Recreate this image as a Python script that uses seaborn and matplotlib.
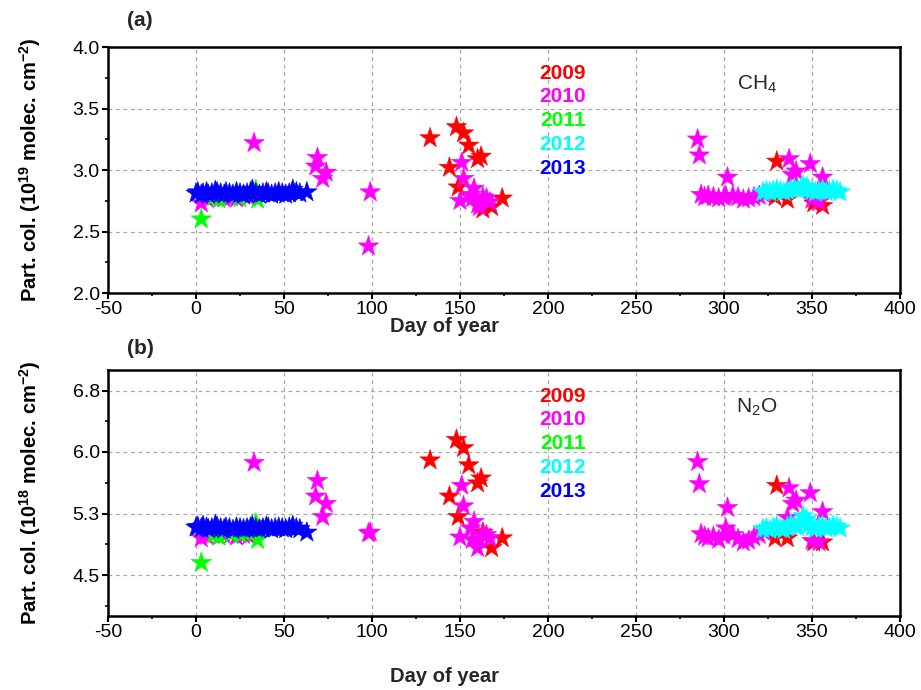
import matplotlib
matplotlib.use("Agg")
import matplotlib.pyplot as plt
from matplotlib.ticker import MultipleLocator, FixedLocator
import pandas as pd
import seaborn as sns

# ---- measurements: day of year, CH4 (1e19 molec/cm2), N2O (1e18 molec/cm2) ----
years = ["2009", "2010", "2011", "2012", "2013"]
year_colors = ["#ff0000", "#ff00ff", "#00ff00", "#00ffff", "#0000ff"]

days_2009 = [133, 144, 148, 149, 152, 155, 160, 162, 163, 168, 174, 330, 329, 336, 351, 356]
ch4_2009 = [3.26, 3.02, 3.35, 2.86, 3.30, 3.20, 3.09, 3.11, 2.68, 2.70, 2.77, 3.07, 2.78, 2.76, 2.73, 2.71]
n2o_2009 = [5.90, 5.46, 6.15, 5.21, 6.05, 5.84, 5.62, 5.68, 5.02, 4.83, 4.95, 5.59, 4.95, 4.95, 4.90, 4.90]

days_2010 = [3, 6, 9, 13, 16, 20, 23, 27, 30, 33, 68, 69, 72, 74, 98, 99,
             150, 151, 152, 156, 157, 158, 160, 161, 163, 165, 167,
             285, 286, 287, 289, 291, 294, 297, 300, 301, 302, 305, 308, 311, 314, 317, 320, 323,
             336, 337, 339, 341, 349, 350, 354, 356]
ch4_2010 = [2.73, 2.77, 2.78, 2.79, 2.77, 2.78, 2.77, 2.79, 2.78, 3.22, 3.03, 3.10, 2.93, 2.98, 2.38, 2.82,
            2.75, 3.06, 2.93, 2.80, 2.77, 2.85, 2.72, 2.70, 2.78, 2.77, 2.74,
            3.25, 3.12, 2.80, 2.78, 2.79, 2.78, 2.77, 2.78, 2.79, 2.94, 2.79, 2.78, 2.76, 2.77, 2.78, 2.79, 2.80,
            2.83, 3.09, 2.96, 2.99, 3.05, 2.76, 2.74, 2.94]
n2o_2010 = [4.95, 4.98, 5.00, 4.97, 4.99, 5.00, 4.97, 4.99, 4.98, 5.87, 5.46, 5.65, 5.21, 5.37, 5.01, 5.02,
            4.96, 5.59, 5.34, 5.07, 4.93, 5.15, 4.83, 4.93, 4.99, 4.99, 4.95,
            5.88, 5.61, 5.00, 4.97, 4.95, 4.97, 4.93, 4.98, 5.07, 5.32, 4.99, 4.94, 4.90, 4.92, 4.96, 4.99, 5.02,
            5.20, 5.56, 5.37, 5.41, 5.50, 4.92, 4.90, 5.27]

days_2011 = [3, 10, 13, 20, 25, 27, 34, 35]
ch4_2011 = [2.60, 2.78, 2.76, 2.79, 2.77, 2.80, 2.84, 2.76]
n2o_2011 = [4.65, 4.99, 4.97, 5.00, 4.99, 5.02, 5.13, 4.93]

days_2012 = [322, 324, 326, 328, 330, 332, 334, 336, 338, 340, 342, 344, 345, 346, 347,
             348, 350, 352, 354, 356, 358, 360, 362, 364, 366]
ch4_2012 = [2.82, 2.83, 2.82, 2.83, 2.84, 2.83, 2.82, 2.83, 2.84, 2.85, 2.84, 2.86, 2.87, 2.85, 2.86,
            2.84, 2.83, 2.82, 2.83, 2.84, 2.82, 2.83, 2.84, 2.83, 2.82]
n2o_2012 = [5.06, 5.07, 5.05, 5.08, 5.10, 5.06, 5.05, 5.09, 5.12, 5.10, 5.08, 5.14, 5.22, 5.15, 5.18,
            5.11, 5.08, 5.06, 5.09, 5.10, 5.07, 5.08, 5.10, 5.09, 5.07]

days_2013 = [0, 1, 3, 4, 6, 7, 9, 11, 12, 14, 16, 17, 19, 21, 23, 25, 27, 29, 31, 32,
             34, 36, 38, 40, 41, 43, 45, 47, 49, 51, 53, 55, 57, 59, 63]
ch4_2013 = [2.81, 2.82, 2.80, 2.81, 2.82, 2.80, 2.81, 2.83, 2.82, 2.81, 2.80, 2.82, 2.81, 2.80, 2.82,
            2.81, 2.80, 2.81, 2.82, 2.84, 2.81, 2.80, 2.81, 2.82, 2.81, 2.80, 2.81, 2.82, 2.81, 2.80,
            2.81, 2.84, 2.82, 2.81, 2.82]
n2o_2013 = [5.08, 5.09, 5.07, 5.10, 5.08, 5.06, 5.07, 5.11, 5.09, 5.07, 5.06, 5.08, 5.07, 5.05, 5.08,
            5.07, 5.06, 5.07, 5.08, 5.10, 5.07, 5.06, 5.07, 5.09, 5.08, 5.06, 5.07, 5.08, 5.07, 5.06,
            5.08, 5.10, 5.07, 5.06, 5.02]

series = {
    "2009": (days_2009, ch4_2009, n2o_2009),
    "2010": (days_2010, ch4_2010, n2o_2010),
    "2011": (days_2011, ch4_2011, n2o_2011),
    "2012": (days_2012, ch4_2012, n2o_2012),
    "2013": (days_2013, ch4_2013, n2o_2013),
}

frames = []
for yr in years:
    d, c, n = series[yr]
    frames.append(pd.DataFrame({"day": d, "ch4": c, "n2o": n, "year": yr}))
df = pd.concat(frames, ignore_index=True)
palette = dict(zip(years, year_colors))

# ---- style ----
sns.set_theme(style="white")
plt.rcParams["font.family"] = ["Liberation Sans", "DejaVu Sans"]
plt.rcParams["mathtext.fontset"] = "custom"
plt.rcParams["mathtext.rm"] = "Liberation Sans"
plt.rcParams["mathtext.bf"] = "Liberation Sans:bold"
plt.rcParams["axes.unicode_minus"] = False

fig = plt.figure(figsize=(9.21, 6.9), dpi=100)
W, H = 921, 690
ax_a = fig.add_axes([108 / W, 1 - 293 / H, 792 / W, 246 / H])
ax_b = fig.add_axes([108 / W, 1 - 616 / H, 792 / W, 246 / H])

panels = [
    (ax_a, "ch4", (2.0, 4.0), [2.0, 2.5, 3.0, 3.5, 4.0], ["2.0", "2.5", "3.0", "3.5", "4.0"],
     MultipleLocator(0.25), "Part. col. (10$^{\\mathbf{19}}$ molec. cm$^{\\mathbf{-2}}$)",
     "CH$_4$", "(a)", 20, 326),
    (ax_b, "n2o", (4.0, 7.0), [4.5, 5.25, 6.0, 6.75], ["4.5", "5.3", "6.0", "6.8"],
     FixedLocator([4.125, 4.875, 5.625, 6.375]),
     "Part. col. (10$^{\\mathbf{18}}$ molec. cm$^{\\mathbf{-2}}$)", "N$_2$O", "(b)", 349, 677),
]

for ax, col, ylim, yt, ytl, yminor, ylab, gas, tag, tag_y, xlab_y in panels:
    sns.scatterplot(data=df, x="day", y=col, hue="year", palette=palette, marker="*",
                    s=240, edgecolor="face", linewidth=0.4, legend=False, ax=ax, zorder=3)
    ax.set_xlim(-50, 400)
    ax.set_ylim(*ylim)
    ax.xaxis.set_major_locator(MultipleLocator(50))
    ax.xaxis.set_minor_locator(MultipleLocator(25))
    ax.set_yticks(yt)
    ax.set_yticklabels(ytl)
    ax.yaxis.set_minor_locator(yminor)
    ax.grid(True, which="major", linestyle=(0, (3, 3)), color="#a8a8a8", linewidth=0.9, zorder=0)
    ax.tick_params(which="major", direction="out", length=4.5, width=1.5, labelsize=14,
                   bottom=True, left=True, top=False, right=False, pad=1.5, colors="black")
    ax.tick_params(which="minor", direction="out", length=2.5, width=1.2,
                   bottom=True, left=True, top=False, right=False, colors="black")
    for sp in ax.spines.values():
        sp.set_color("black")
        sp.set_linewidth(1.8)
    ax.set_xlabel("")
    ax.set_ylabel(ylab, fontsize=14.5, fontweight="bold", color="black")
    ax.yaxis.set_label_coords(-0.082, 0.5)
    fig.text(444 / W, 1 - xlab_y / H, "Day of year", fontsize=14.5, fontweight="bold",
             ha="center", va="center")
    fig.text(140 / W, 1 - tag_y / H, tag, fontsize=15, fontweight="bold",
             ha="center", va="center")
    ax.text(0.819, 0.85, gas, transform=ax.transAxes, fontsize=15,
            ha="center", va="center")
    for i, (yr, c) in enumerate(zip(years, year_colors)):
        ax.text(0.574, 0.894 - i * 0.0965, yr, transform=ax.transAxes, color=c,
                fontsize=15, fontweight="bold", ha="center", va="center")

fig.savefig("out.png", dpi=100)
